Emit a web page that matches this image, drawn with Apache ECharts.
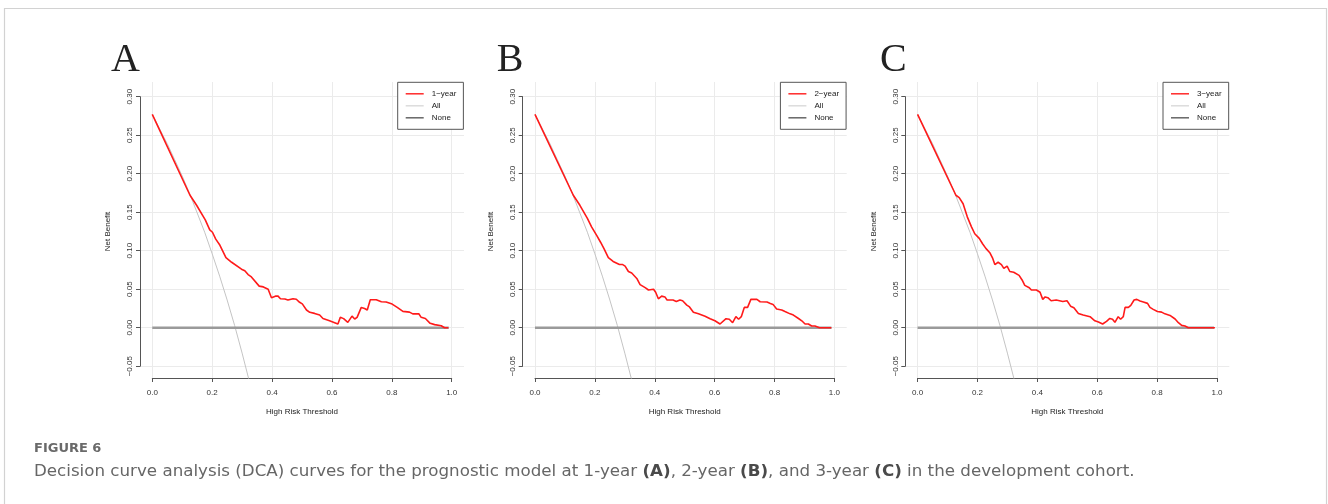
<!DOCTYPE html>
<html>
<head>
<meta charset="utf-8">
<script src="https://cdn.jsdelivr.net/npm/echarts@6/dist/echarts.min.js"></script>
<style>
  html, body { margin: 0; padding: 0; background: #fff; }
  #chart { width: 1328px; height: 504px; }
</style>
</head>
<body>
<div id="chart"></div>
<script>
// ---------------- data ----------------
const panelLetters = ['A', 'B', 'C'];
const modelNames = ['1−year', '2−year', '3−year'];

const thresholdsA = [0, 0.126, 0.148, 0.177, 0.192, 0.201, 0.212, 0.226, 0.246, 0.265, 0.298, 0.309, 0.320, 0.331, 0.357, 0.371, 0.387, 0.398, 0.411, 0.420, 0.428, 0.443, 0.453, 0.470, 0.481, 0.492, 0.501, 0.515, 0.526, 0.542, 0.559, 0.570, 0.592, 0.609, 0.620, 0.628, 0.639, 0.653, 0.659, 0.667, 0.676, 0.684, 0.698, 0.709, 0.718, 0.728, 0.748, 0.765, 0.781, 0.801, 0.818, 0.837, 0.859, 0.870, 0.890, 0.898, 0.912, 0.928, 0.943, 0.948, 0.965, 0.976, 0.989];
const netBenefitA = [0.277, 0.172, 0.159, 0.140, 0.127, 0.124, 0.115, 0.107, 0.091, 0.085, 0.076, 0.074, 0.069, 0.066, 0.054, 0.053, 0.050, 0.039, 0.041, 0.041, 0.0376, 0.0372, 0.036, 0.0376, 0.037, 0.033, 0.031, 0.023, 0.020, 0.0186, 0.0165, 0.012, 0.009, 0.0065, 0.0048, 0.0135, 0.0118, 0.007, 0.007, 0.015, 0.0113, 0.0135, 0.0264, 0.025, 0.023, 0.0363, 0.0363, 0.0337, 0.0333, 0.0307, 0.0264, 0.0212, 0.0203, 0.018, 0.0182, 0.0135, 0.012, 0.0057, 0.004, 0.0026, 0.0026, 0, 0];

const thresholdsB = [0, 0.128, 0.150, 0.175, 0.189, 0.206, 0.219, 0.230, 0.245, 0.261, 0.282, 0.293, 0.301, 0.312, 0.323, 0.340, 0.351, 0.368, 0.379, 0.396, 0.403, 0.412, 0.423, 0.434, 0.441, 0.461, 0.472, 0.484, 0.493, 0.507, 0.516, 0.529, 0.546, 0.568, 0.585, 0.601, 0.618, 0.638, 0.649, 0.660, 0.671, 0.680, 0.689, 0.699, 0.710, 0.721, 0.741, 0.752, 0.775, 0.786, 0.795, 0.807, 0.824, 0.835, 0.852, 0.863, 0.880, 0.891, 0.902, 0.913, 0.924, 0.935, 0.950, 0.990];
const netBenefitB = [0.277, 0.172, 0.159, 0.142, 0.131, 0.120, 0.111, 0.103, 0.091, 0.086, 0.082, 0.082, 0.080, 0.073, 0.071, 0.064, 0.056, 0.052, 0.049, 0.050, 0.046, 0.0376, 0.041, 0.040, 0.036, 0.036, 0.034, 0.036, 0.035, 0.0294, 0.027, 0.020, 0.018, 0.015, 0.0117, 0.009, 0.0048, 0.0117, 0.011, 0.0065, 0.0143, 0.011, 0.0143, 0.0264, 0.0264, 0.0368, 0.0368, 0.0337, 0.0333, 0.0316, 0.0303, 0.0242, 0.023, 0.021, 0.018, 0.0164, 0.012, 0.009, 0.0048, 0.0048, 0.0022, 0.0022, 0, 0];

const thresholdsC = [0, 0.128, 0.139, 0.152, 0.166, 0.180, 0.191, 0.206, 0.217, 0.228, 0.242, 0.251, 0.258, 0.269, 0.280, 0.288, 0.299, 0.308, 0.321, 0.339, 0.349, 0.358, 0.373, 0.380, 0.397, 0.409, 0.418, 0.426, 0.435, 0.446, 0.463, 0.474, 0.485, 0.499, 0.511, 0.522, 0.537, 0.553, 0.576, 0.592, 0.604, 0.618, 0.631, 0.642, 0.651, 0.659, 0.670, 0.678, 0.687, 0.693, 0.704, 0.712, 0.723, 0.732, 0.743, 0.754, 0.768, 0.776, 0.787, 0.801, 0.815, 0.826, 0.843, 0.860, 0.871, 0.882, 0.893, 0.904, 0.993];
const netBenefitC = [0.277, 0.172, 0.169, 0.161, 0.144, 0.131, 0.122, 0.116, 0.109, 0.103, 0.097, 0.090, 0.082, 0.085, 0.082, 0.077, 0.080, 0.073, 0.072, 0.068, 0.062, 0.055, 0.052, 0.049, 0.049, 0.046, 0.0368, 0.040, 0.039, 0.035, 0.036, 0.035, 0.034, 0.035, 0.028, 0.026, 0.0186, 0.0164, 0.0143, 0.009, 0.0074, 0.0048, 0.0083, 0.012, 0.011, 0.007, 0.0143, 0.011, 0.0143, 0.0264, 0.0264, 0.029, 0.036, 0.0368, 0.0346, 0.0333, 0.0316, 0.0264, 0.0238, 0.021, 0.0203, 0.018, 0.016, 0.0113, 0.0065, 0.003, 0.0022, 0, 0];

// "All" (treat everyone) curve, same in all three panels
const allThresholds = [0, 0.025, 0.05, 0.075, 0.1, 0.125, 0.15, 0.175, 0.2, 0.225, 0.25, 0.275, 0.3, 0.325, 0.35];
const allNetBenefit = [0.277, 0.258, 0.239, 0.218, 0.197, 0.174, 0.149, 0.124, 0.096, 0.067, 0.036, 0.003, -0.033, -0.071, -0.112];

// "None" (treat no one) line
const noneThresholds = [0, 0.99];
const noneNetBenefit = [0, 0];

const xTickMin = 0, xTickMax = 1, xTickStep = 0.2;
const yTickMin = -0.05, yTickMax = 0.30, yTickStep = 0.05;

const xAxisTitle = 'High Risk Threshold';
const yAxisTitle = 'Net Benefit';
const figureLabel = 'FIGURE 6';

const modelThresholds = [thresholdsA, thresholdsB, thresholdsC];
const modelNetBenefit = [netBenefitA, netBenefitB, netBenefitC];

// ---------------- layout ----------------
const pair = (xs, ys) => xs.map((x, i) => [x, ys[i]]);
const panelDx = [0, 382.7, 765.3];
const letterX = [111, 496.7, 880];
const RFONT = 'Liberation Sans, Arial, Helvetica, sans-serif';
const CAPFONT = 'DejaVu Sans, Open Sans, sans-serif';

const grid = [], xAxis = [], yAxis = [], series = [], legend = [], graphicEls = [];

panelDx.forEach((dx, p) => {
  const gd = grid.length;      // data grid (full R plot region)
  grid.push({ left: 140 + dx, top: 82, width: 324, height: 296 });
  const gx = grid.length;      // x axis + vertical grid lines
  grid.push({ left: 152.3 + dx, top: 82, width: 299.4, height: 296 });
  const gy = grid.length;      // y axis + horizontal grid lines
  grid.push({ left: 140 + dx, top: 96.7, width: 324, height: 269.5 });

  // data grid axes (hidden)
  xAxis.push({ gridIndex: gd, type: 'value', min: -0.041, max: 1.041, show: false });
  yAxis.push({ gridIndex: gd, type: 'value', min: -0.0653, max: 0.3191, show: false });

  // x axis grid
  xAxis.push({
    gridIndex: gx, type: 'value', min: xTickMin, max: xTickMax, interval: xTickStep,
    position: 'bottom',
    axisLine: { show: true, onZero: false, lineStyle: { color: '#555', width: 1 } },
    axisTick: { show: true, length: 4, lineStyle: { color: '#555', width: 1 } },
    axisLabel: { fontSize: 8, color: '#333', margin: 10.5, fontFamily: RFONT,
                 formatter: v => v.toFixed(1), showMinLabel: true, showMaxLabel: true },
    splitLine: { show: true, lineStyle: { color: '#ebebeb', width: 1 } },
    name: xAxisTitle, nameLocation: 'middle', nameGap: 29.5,
    nameTextStyle: { fontSize: 8, color: '#222', fontFamily: RFONT }
  });
  yAxis.push({ gridIndex: gx, type: 'value', min: 0, max: 1, show: false });

  // y axis grid
  xAxis.push({ gridIndex: gy, type: 'value', min: 0, max: 1, show: false });
  yAxis.push({
    gridIndex: gy, type: 'value', min: yTickMin, max: yTickMax, interval: yTickStep,
    position: 'left',
    axisLine: { show: true, onZero: false, lineStyle: { color: '#555', width: 1 } },
    axisTick: { show: true, length: 4, lineStyle: { color: '#555', width: 1 } },
    axisLabel: { fontSize: 8, color: '#333', margin: 6, rotate: 90, fontFamily: RFONT,
                 formatter: v => v.toFixed(2).replace('-', '−'), showMinLabel: true, showMaxLabel: true },
    splitLine: { show: true, lineStyle: { color: '#ebebeb', width: 1 } },
    name: yAxisTitle, nameLocation: 'middle', nameGap: 28, nameRotate: 90,
    nameTextStyle: { fontSize: 8, color: '#222', fontFamily: RFONT }
  });

  // series
  series.push({
    name: 'All', type: 'line', xAxisIndex: gd, yAxisIndex: gd,
    data: pair(allThresholds, allNetBenefit), symbol: 'none', clip: true,
    lineStyle: { color: '#c4c4c4', width: 1 }, itemStyle: { color: '#c4c4c4' }, z: 2, silent: true
  });
  series.push({
    name: 'None', type: 'line', xAxisIndex: gd, yAxisIndex: gd,
    data: pair(noneThresholds, noneNetBenefit), symbol: 'none', clip: true,
    lineStyle: { color: '#9a9a9a', width: 2.5 }, itemStyle: { color: '#9a9a9a' }, z: 3, silent: true
  });
  series.push({
    name: modelNames[p], type: 'line', xAxisIndex: gd, yAxisIndex: gd,
    data: pair(modelThresholds[p], modelNetBenefit[p]), symbol: 'none', clip: true,
    lineStyle: { color: '#ff1a1a', width: 1.6 }, itemStyle: { color: '#ff1a1a' }, z: 4, silent: true
  });

  legend.push({
    orient: 'vertical', left: 397.7 + dx, top: 82.3,
    padding: [5.5, 7, 5.5, 8], itemGap: 0, itemWidth: 18, itemHeight: 1.5,
    icon: 'rect', selectedMode: false,
    backgroundColor: '#fff', borderColor: '#555', borderWidth: 1, borderRadius: 0,
    itemStyle: { borderWidth: 0 },
    textStyle: { fontSize: 8, color: '#222', fontFamily: RFONT, lineHeight: 12, padding: [0, 0, 0, 3] },
    data: [
      { name: modelNames[p], itemStyle: { color: '#ff2a2a', borderWidth: 0 } },
      { name: 'All', itemStyle: { color: '#dcdcdc', borderWidth: 0 } },
      { name: 'None', itemStyle: { color: '#666', borderWidth: 0 } }
    ]
  });

  graphicEls.push({
    type: 'text', left: letterX[p], top: 40,
    style: { text: panelLetters[p], fontSize: 40, fontFamily: 'Liberation Serif, Times New Roman, serif', fill: '#222' }
  });
});

// outer frame
graphicEls.push({
  type: 'rect', shape: { x: 4.5, y: 8.5, width: 1322, height: 520 },
  style: { fill: 'none', stroke: '#d2d2d2', lineWidth: 1.2 }, z: -1
});

const chart = echarts.init(document.getElementById('chart'), null, { renderer: 'canvas' });
chart.setOption({
  backgroundColor: '#fff',
  animation: false,
  grid, xAxis, yAxis, series, legend,
  graphic: graphicEls,
  title: [
    { text: figureLabel, left: 34, top: 442.5, padding: 0,
      textStyle: { fontFamily: CAPFONT, fontSize: 13, fontWeight: 'bold', color: '#6a6a6a' } },
    { text: '{n|Decision curve analysis (DCA) curves for the prognostic model at 1-year }{b|(A)}{n|, 2-year }{b|(B)}{n|, and 3-year }{b|(C)}{n| in the development cohort.}',
      left: 34, top: 463.5, padding: 0,
      textStyle: {
        rich: {
          n: { fontFamily: CAPFONT, fontSize: 16.7, color: '#666', fontWeight: 'normal' },
          b: { fontFamily: CAPFONT, fontSize: 16.7, color: '#4a4a4a', fontWeight: 'bold' }
        }
      } }
  ]
});
</script>
</body>
</html>
